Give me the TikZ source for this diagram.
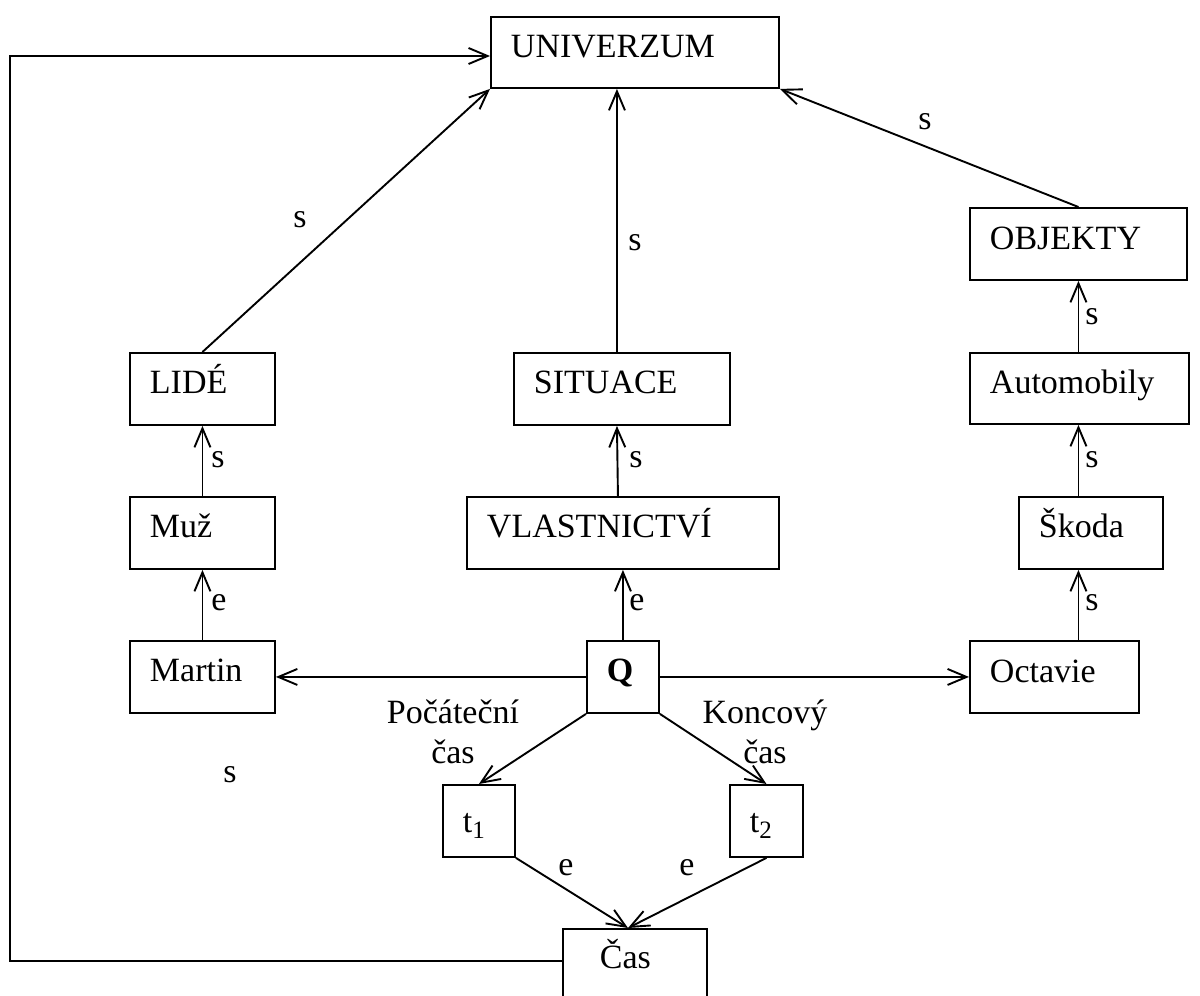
\documentclass[tikz,border=0pt]{standalone}
\usepackage{fontspec}
\setmainfont{Liberation Serif}
\usetikzlibrary{arrows.meta}
\tikzset{
  box/.style={draw, line width=1.9pt, anchor=north west, inner xsep=20pt,
    inner ysep=0pt, align=left},
  conn/.style={line width=1.9pt, -{Straight Barb[length=19pt,width=16pt,line width=1.9pt]}},
  lbl/.style={inner sep=0pt},
}
\newcommand{\sub}[1]{\raisebox{-6pt}{\fontsize{25}{25}\selectfont #1}}
\begin{document}
\begin{tikzpicture}[x=1pt, y=-1pt, font=\fontsize{34}{40}\selectfont]
\clip (0,0) rectangle (1200,996);

% boxes
\node[box, text width=248pt, text height=41pt, text depth=30pt] (univ) at (490,16) {UNIVERZUM};
\node[box, text width=177pt, text height=42pt, text depth=30pt] (obj)  at (969,207) {OBJEKTY};
\node[box, text width=105pt, text height=41pt, text depth=31pt] (lide) at (129,352) {LIDÉ};
\node[box, text width=176pt, text height=41pt, text depth=31pt] (sit)  at (513,352) {SITUACE};
\node[box, text width=179pt, text height=41pt, text depth=30pt] (auto) at (969,352) {Automobily};
\node[box, text width=105pt, text height=41pt, text depth=31pt] (muz)  at (129,496) {Muž};
\node[box, text width=272pt, text height=41pt, text depth=31pt] (vl)   at (466,496) {VLASTNICTVÍ};
\node[box, text width=104pt, text height=41pt, text depth=31pt] (sko)  at (1018,496) {Škoda};
\node[box, text width=105pt, text height=41pt, text depth=31pt] (mar)  at (129,640) {Martin};
\node[box, text width=32pt,  text height=41pt, text depth=31pt] (q)    at (586,640) {\textbf{Q}};
\node[box, text width=129pt, text height=42pt, text depth=30pt] (oct)  at (969,640) {Octavie};
\node[box, text width=32pt,  text height=48pt, text depth=24pt] (t1)   at (442,784) {t\sub{1}};
\node[box, text width=33pt,  text height=48pt, text depth=24pt] (t2)   at (729,784) {t\sub{2}};
\node[box, inner xsep=37pt, text width=70pt, text height=40pt, text depth=42pt] (cas) at (562,928) {Čas};

% helper points
\coordinate (loopA) at (10,961);
\coordinate (loopB) at (10,56);
\coordinate (casTop) at (628,928);

% connectors
\draw[conn] (lide.north) -- (univ.south west);
\draw[conn] ([xshift=-5pt]sit.north) -- ([xshift=-5pt]sit.north |- univ.south);
\draw[conn] (obj.north) -- (univ.south east);
\draw[conn] (auto.north -| obj.north) -- (obj.south);
\draw[conn] (sko.north -| obj.north) -- (auto.south -| obj.north);
\draw[conn] (oct.north -| obj.north) -- (sko.south -| obj.north);
\draw[conn] (muz.north) -- (lide.south);
\draw[conn] (mar.north) -- (muz.south);
\draw[conn] ([xshift=-5pt]vl.north) -- ([xshift=-5pt]sit.south);
\draw[conn] (q.north) -- (q.north |- vl.south);
\draw[conn] (q.west) -- (mar.east);
\draw[conn] (q.east) -- (oct.west);
\draw[conn] (q.south west) -- (t1.north);
\draw[conn] (q.south east) -- (t2.north);
\draw[conn] (t1.south east) -- (casTop);
\draw[conn] (t2.south) -- (casTop);
\draw[conn] (loopA -| cas.west) -- (loopA) -- (loopB) -- (loopB -| univ.west);

% connector labels
\node[lbl] (l1)  at (300,220) {s};
\node[lbl] (l2)  at (635,243) {s};
\node[lbl] (l3)  at (925,122) {s};
\node[lbl] (l4)  at (1092,317) {s};
\node[lbl] (l5)  at (1092,460) {s};
\node[lbl] (l6)  at (1092,603) {s};
\node[lbl] (l7)  at (218,460) {s};
\node[lbl] (l8)  at (219,603) {e};
\node[lbl] (l9)  at (636,460) {s};
\node[lbl] (l10) at (637,603) {e};
\node[lbl] (l11) at (566,868) {e};
\node[lbl] (l12) at (687,868) {e};
\node[lbl] (l13) at (230,775) {s};
\node[lbl, anchor=base, align=center] (l14) at (453,763) {Počáteční\\čas};
\node[lbl, anchor=base, align=center] (l15) at (765,763) {Koncový\\čas};
\end{tikzpicture}
\end{document}
